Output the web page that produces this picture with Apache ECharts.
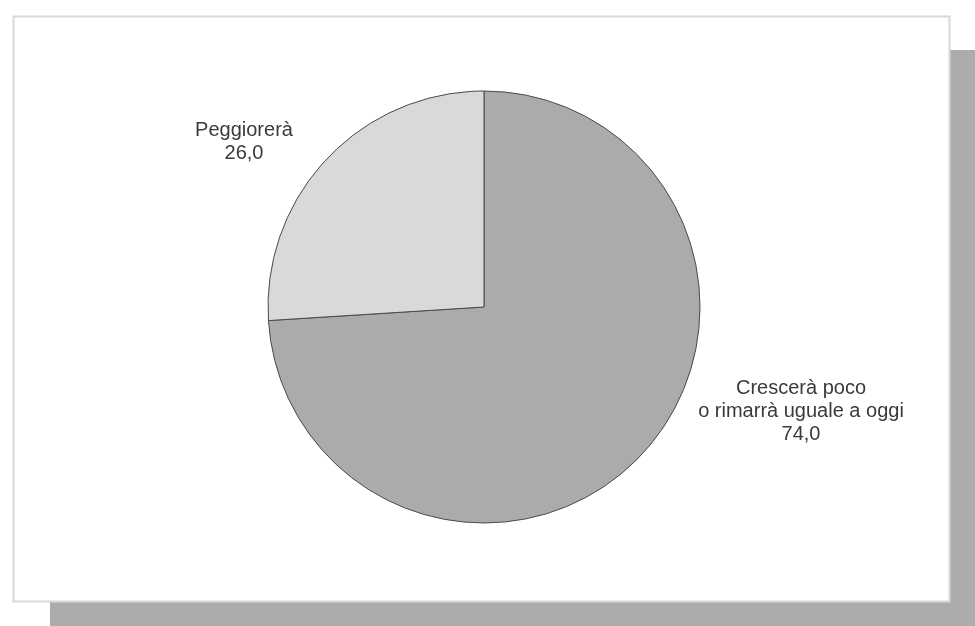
<!DOCTYPE html>
<html>
<head>
<meta charset="utf-8">
<script src="https://cdn.jsdelivr.net/npm/echarts@6/dist/echarts.min.js"></script>
<style>
  html, body { margin: 0; padding: 0; background: #fff; }
  #container { width: 975px; height: 626px; }
</style>
</head>
<body>
<div id="container"></div>
<script>
(function () {
    // dati
    let categories = ['Crescerà poco\no rimarrà uguale a oggi', 'Peggiorerà'];
    let values = [74.0, 26.0];
    let sliceColors = ['#ababab', '#d9d9d9'];
    // dove mettere le etichette (centro del testo)
    let labelSpots = [[801, 411], [244, 142]];

    let dom = document.getElementById('container');
    let myChart = echarts.init(dom, null, { renderer: 'canvas' });

    let option = {
        animation: false,
        graphic: [
            {
                type: 'rect',
                z: -10,
                shape: { x: 50, y: 50, width: 940, height: 590 },
                style: { fill: '#acacac' }
            },
            {
                type: 'rect',
                z: -9,
                shape: { x: 13.5, y: 16.5, width: 936, height: 585 },
                style: { fill: '#ffffff', stroke: '#d8d8d8', lineWidth: 2 }
            }
        ],
        series: [
            {
                type: 'pie',
                center: [484, 307],
                radius: [0, 216],
                startAngle: 90,
                clockwise: true,
                avoidLabelOverlap: false,
                itemStyle: {
                    borderColor: '#4a4a4a',
                    borderWidth: 1
                },
                label: {
                    show: true,
                    position: 'outside',
                    color: '#3a3a3a',
                    fontFamily: 'Liberation Sans, Arial, sans-serif',
                    fontSize: 20,
                    lineHeight: 23,
                    align: 'center',
                    formatter: function (p) {
                        return p.name + '\n' + p.value.toFixed(1).replace('.', ',');
                    }
                },
                labelLine: { show: false },
                labelLayout: function (params) {
                    let s = labelSpots[params.dataIndex];
                    return { x: s[0], y: s[1], align: 'center', verticalAlign: 'middle' };
                },
                emphasis: { disabled: true },
                data: categories.map(function (c, i) {
                    return { name: c, value: values[i], itemStyle: { color: sliceColors[i] } };
                })
            }
        ]
    };
    myChart.setOption(option);
})();
</script>
</body>
</html>
